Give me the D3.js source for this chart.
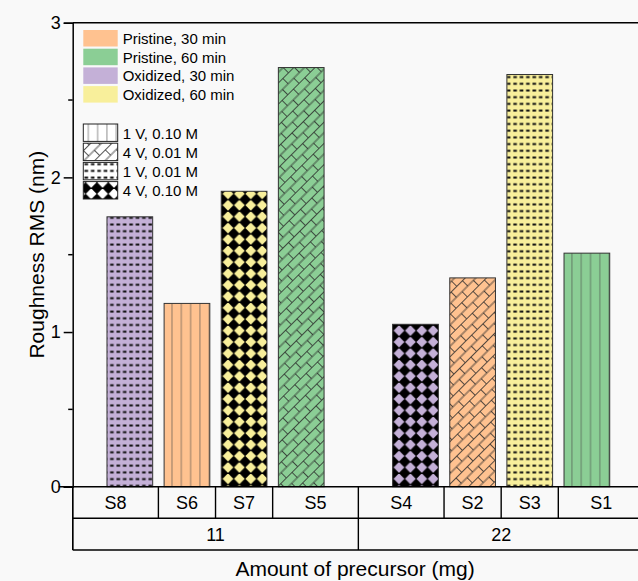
<!DOCTYPE html>
<html>
<head>
<meta charset="utf-8">
<script src="https://cdn.jsdelivr.net/npm/d3@7/dist/d3.min.js"></script>
<style>
  html, body { margin: 0; padding: 0; background: #f9f9f9; }
  svg { display: block; font-family: Arial, "Liberation Sans", sans-serif; }
</style>
</head>
<body>
<svg id="chart" width="638" height="581"></svg>
<script>
// data
const samples   = ["S8", "S6", "S7", "S5", "S4", "S2", "S3", "S1"];
const precursor = ["11", "11", "11", "11", "22", "22", "22", "22"];
const roughness = [1.745, 1.185, 1.91, 2.71, 1.05, 1.35, 2.665, 1.51];
const treatment = ["Oxidized, 30 min", "Pristine, 30 min", "Oxidized, 60 min", "Pristine, 60 min",
                   "Oxidized, 30 min", "Pristine, 30 min", "Oxidized, 60 min", "Pristine, 60 min"];
const condition = ["1 V, 0.01 M", "1 V, 0.10 M", "4 V, 0.10 M", "4 V, 0.01 M",
                   "4 V, 0.10 M", "4 V, 0.01 M", "1 V, 0.01 M", "1 V, 0.10 M"];
const groups     = ["11", "22"];
const treatments = ["Pristine, 30 min", "Pristine, 60 min", "Oxidized, 30 min", "Oxidized, 60 min"];
const conditions = ["1 V, 0.10 M", "4 V, 0.01 M", "1 V, 0.01 M", "4 V, 0.10 M"];
const yTicks = [0, 1, 2, 3];

const colors = {
  "Pristine, 30 min": "#ffc290",
  "Pristine, 60 min": "#8bce95",
  "Oxidized, 30 min": "#c4b0d7",
  "Oxidized, 60 min": "#f8ef9b"
};
const patternIds = {
  "1 V, 0.10 M": "vlines",
  "4 V, 0.01 M": "bricks",
  "1 V, 0.01 M": "dashes",
  "4 V, 0.10 M": "diamonds"
};

const svg = d3.select("#chart");

// slot positions: one empty slot between the two precursor groups
const slots = samples.map((s, i) => i + 1 + groups.indexOf(precursor[i]));
const nSlots = slots[slots.length - 1] + 1;

const x = d3.scaleLinear().domain([0, nSlots]).range([72.7, 644]);
const y = d3.scaleLinear().domain([0, 3]).range([486.7, 22.7]);
const barW = x(0.8) - x(0);

// ---- patterns
const defs = svg.append("defs");

function addPattern(id, w, h, draw, transform) {
  const p = defs.append("pattern")
      .attr("id", id)
      .attr("patternUnits", "userSpaceOnUse")
      .attr("width", w)
      .attr("height", h);
  if (transform) p.attr("patternTransform", transform);
  draw(p);
}

addPattern("vlines", 9.3, 10, p => {
  p.append("line").attr("x1", 4.6).attr("x2", 4.6).attr("y1", 0).attr("y2", 10)
      .attr("stroke", "#444").attr("stroke-opacity", 0.45).attr("stroke-width", 1.3);
});
addPattern("dashes", 6.4, 6.7, p => {
  p.append("rect").attr("x", 1.3).attr("y", 2.4).attr("width", 3.6).attr("height", 2).attr("fill", "#111");
});
addPattern("diamonds", 11.4, 11.4, p => {
  p.append("path").attr("d", "M5.7,-0.3L11.7,5.7L5.7,11.7L-0.3,5.7Z").attr("fill", "#000");
});
addPattern("bricks", 16, 15, p => {
  p.append("line").attr("x1", 0).attr("x2", 16).attr("y1", 0.5).attr("y2", 0.5);
  p.append("line").attr("x1", 0).attr("x2", 16).attr("y1", 8).attr("y2", 8);
  p.append("line").attr("x1", 0.5).attr("x2", 0.5).attr("y1", 0.5).attr("y2", 8);
  p.append("line").attr("x1", 8.5).attr("x2", 8.5).attr("y1", 8).attr("y2", 15.5);
  p.selectAll("line").attr("stroke", "#2a2a2a").attr("stroke-width", 1).attr("stroke-opacity", 0.8);
}, "rotate(-45)");

// ---- bars
const bars = svg.append("g").attr("class", "bars");
samples.forEach((s, i) => {
  const bx = x(slots[i]) - barW / 2;
  const by = y(roughness[i]);
  const bh = y(0) - by;
  bars.append("rect")
      .attr("x", bx).attr("y", by).attr("width", barW).attr("height", bh)
      .attr("fill", colors[treatment[i]]);
  bars.append("rect")
      .attr("x", bx).attr("y", by).attr("width", barW).attr("height", bh)
      .attr("fill", `url(#${patternIds[condition[i]]})`)
      .attr("stroke", "#333").attr("stroke-width", 1);
});

// ---- frame
svg.append("line").attr("x1", x(0)).attr("x2", x(nSlots)).attr("y1", y(3)).attr("y2", y(3))
    .attr("stroke", "#000").attr("stroke-width", 1.5);
svg.append("line").attr("x1", x(nSlots)).attr("x2", x(nSlots)).attr("y1", y(3)).attr("y2", y(0))
    .attr("stroke", "#000").attr("stroke-width", 1.5);

// ---- y axis
const yAxis = svg.append("g")
    .attr("transform", `translate(${x(0)},0)`)
    .call(d3.axisLeft(y).tickValues(yTicks).tickFormat(d3.format("d")).tickSize(9).tickPadding(3));
yAxis.select(".domain").attr("stroke-width", 1.5);
yAxis.selectAll(".tick line").attr("stroke-width", 1.5);
yAxis.selectAll(".tick text").attr("font-size", 18).attr("font-family", "Arial, 'Liberation Sans', sans-serif").attr("fill", "#000");
svg.append("g")
    .attr("transform", `translate(${x(0)},0)`)
    .selectAll("line").data([0.5, 1.5, 2.5]).join("line")
    .attr("x1", -4.5).attr("x2", 0).attr("y1", d => y(d)).attr("y2", d => y(d))
    .attr("stroke", "#000").attr("stroke-width", 1.5);

svg.append("text")
    .attr("transform", `translate(44,${(y(0) + y(3)) / 2}) rotate(-90)`)
    .attr("text-anchor", "middle")
    .attr("font-size", 21)
    .text("Roughness RMS (nm)");

// ---- category table under the x axis
const row1 = [y(0), y(0) + 31.6];
const row2 = [row1[1], row1[1] + 31.7];
const edges = [0].concat(slots.slice(1).map((s, i) => (slots[i] + s) / 2), [nSlots]);
const table = svg.append("g").attr("stroke", "#000").attr("stroke-width", 1.4);
table.append("line").attr("x1", x(0) - 14).attr("x2", x(nSlots)).attr("y1", y(0)).attr("y2", y(0)).attr("stroke-width", 1.5);
table.append("line").attr("x1", x(0)).attr("x2", x(nSlots)).attr("y1", row1[1]).attr("y2", row1[1]);
table.append("line").attr("x1", x(0)).attr("x2", x(nSlots)).attr("y1", row2[1]).attr("y2", row2[1]);
table.selectAll(".cellEdge").data(edges).join("line")
    .attr("x1", d => x(d)).attr("x2", d => x(d)).attr("y1", row1[0]).attr("y2", row1[1]);
const groupEdges = [0, (slots[3] + slots[4]) / 2, nSlots];
table.selectAll(".groupEdge").data(groupEdges).join("line")
    .attr("x1", d => x(d)).attr("x2", d => x(d)).attr("y1", row2[0]).attr("y2", row2[1]);
table.append("line").attr("x1", x(0)).attr("x2", x(0)).attr("y1", y(0)).attr("y2", row2[1]);

svg.append("g").selectAll("text").data(samples).join("text")
    .attr("x", (d, i) => (x(edges[i]) + x(edges[i + 1])) / 2)
    .attr("y", (row1[0] + row1[1]) / 2 + 6.5)
    .attr("text-anchor", "middle").attr("font-size", 18)
    .text(d => d);
svg.append("g").selectAll("text").data(groups).join("text")
    .attr("x", (d, i) => (x(groupEdges[i]) + x(groupEdges[i + 1])) / 2)
    .attr("y", (row2[0] + row2[1]) / 2 + 6.5)
    .attr("text-anchor", "middle").attr("font-size", 18)
    .text(d => d);

svg.append("text")
    .attr("x", 355).attr("y", 576)
    .attr("text-anchor", "middle").attr("font-size", 21)
    .text("Amount of precursor (mg)");

// ---- legends
const lg1 = svg.append("g");
treatments.forEach((t, i) => {
  const ty = 30 + i * 18.7;
  lg1.append("rect").attr("x", 83.3).attr("y", ty).attr("width", 34.4).attr("height", 16.5)
      .attr("fill", colors[t]);
  lg1.append("text").attr("x", 122.7).attr("y", ty + 13.8).attr("font-size", 15).text(t);
});
const lg2 = svg.append("g");
conditions.forEach((c, i) => {
  const ty = 124 + i * 19.2;
  lg2.append("rect").attr("x", 83.3).attr("y", ty).attr("width", 34.4).attr("height", 17.4)
      .attr("fill", "#fff");
  lg2.append("rect").attr("x", 83.3).attr("y", ty).attr("width", 34.4).attr("height", 17.4)
      .attr("fill", `url(#${patternIds[c]})`).attr("stroke", "#222").attr("stroke-width", 1);
  lg2.append("text").attr("x", 122.7).attr("y", ty + 14.5).attr("font-size", 15).text(c);
});
</script>
</body>
</html>
